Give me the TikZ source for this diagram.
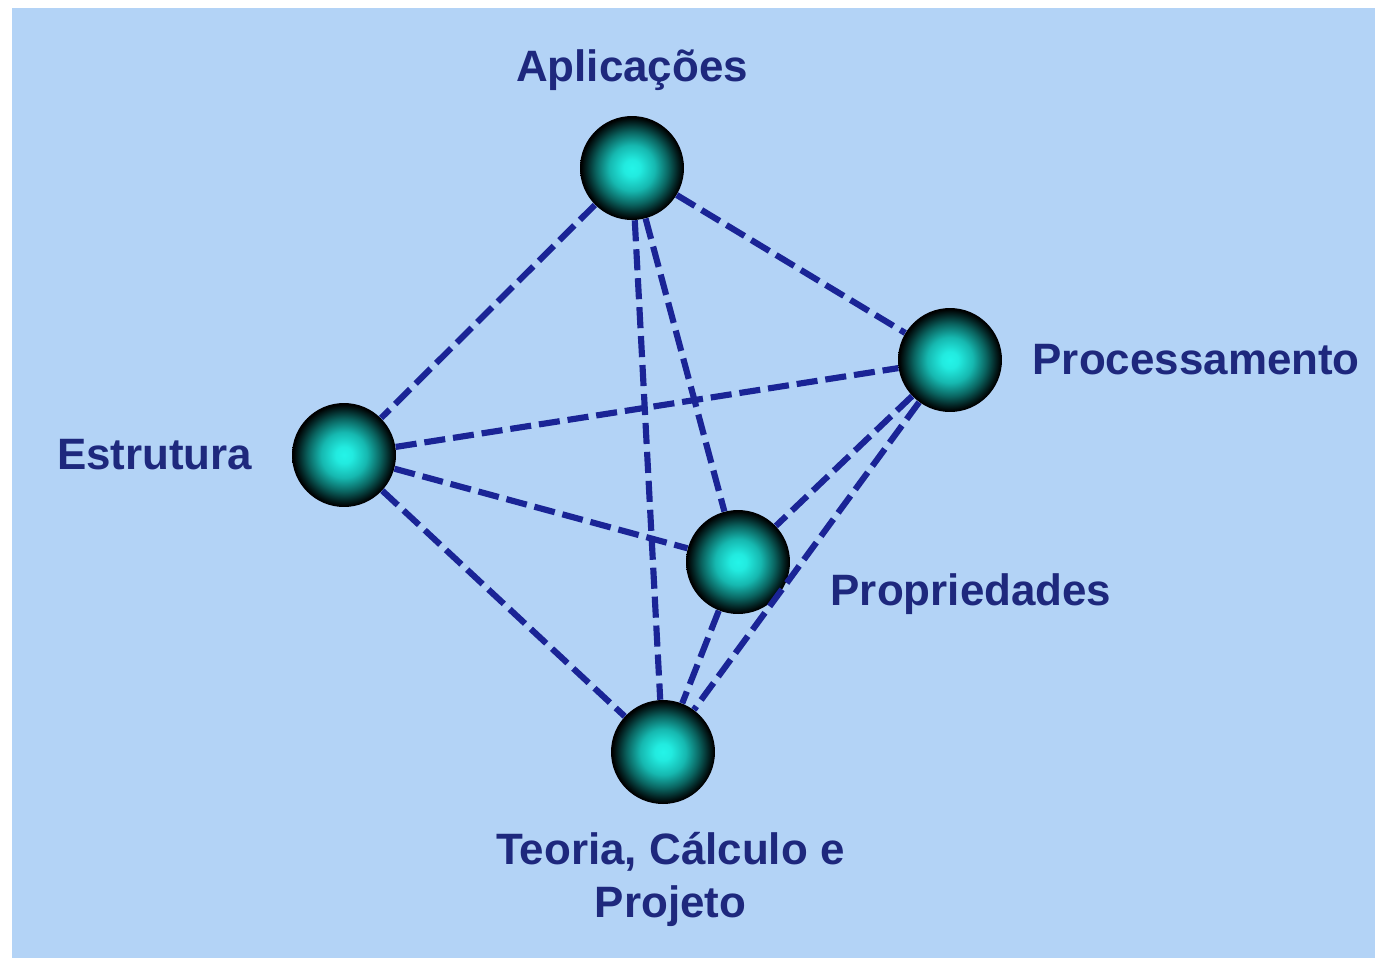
\documentclass[tikz,border=0pt]{standalone}
\usepackage{fontspec}
\setmainfont{Liberation Sans}
\usetikzlibrary{positioning}
\definecolor{bgblue}{RGB}{179,211,246}
\definecolor{txtblue}{RGB}{30,40,125}
\definecolor{lineblue}{RGB}{26,36,150}
\definecolor{sphcore}{RGB}{36,244,232}
\definecolor{sphmid}{RGB}{22,184,176}
\definecolor{sphdark}{RGB}{10,100,96}
\definecolor{sphedge}{RGB}{3,34,34}
\pgfdeclareradialshading{sphere}{\pgfpoint{0bp}{0bp}}{color(0bp)=(sphcore); color(4bp)=(sphcore!85!sphmid); color(11bp)=(sphmid); color(17.5bp)=(sphdark); color(22bp)=(sphedge); color(24.5bp)=(black); color(50bp)=(black)}
\tikzset{node distance=1cm, font=\fontsize{25}{30}\selectfont\bfseries}
\tikzstyle{ball} = [circle, minimum size=2.08cm, inner sep=0pt, shading=sphere]
\tikzstyle{tag} = [text=txtblue, align=center, inner sep=0pt]
\tikzstyle{link} = [draw=lineblue, line width=3.5pt, dash pattern=on 12pt off 4.5pt]

\begin{document}
\begin{tikzpicture}[x=0.02cm, y=-0.02cm]
		\fill [white] (0,0) rectangle (1377,961);
		\fill [bgblue] (12,8) rectangle (1375,958);
		\useasboundingbox (0,0) rectangle (1377,961);

		\node [ball] (apl) at (632,168) {};
		\node [ball] (proc) at (950,360) {};
		\node [ball] (est) at (344,455) {};
		\node [ball] (prop) at (738,562) {};
		\node [ball] (teo) at (663,752) {};

		\node [tag, above=0.5cm of apl] (apl_t) {Aplicações};
		\node [tag, right=0.6cm of proc] (proc_t) {Processamento};
		\node [tag, left=0.78cm of est] (est_t) {Estrutura};
		\node [tag, right=0.8cm of prop, yshift=-0.65cm] (prop_t) {Propriedades};
		\node [tag, below=0.55cm of teo, xshift=0.15cm] (teo_t) {Teoria, Cálculo e\\Projeto};

		\draw [link] (apl) -- (est);
		\draw [link] (apl) -- (proc);
		\draw [link] (apl) -- (teo);
		\draw [link] (apl) -- (prop);
		\draw [link] (est) -- (proc);
		\draw [link] (est) -- (prop);
		\draw [link] (est) -- (teo);
		\draw [link] (proc) -- (prop);
		\draw [link] (proc) -- (teo);
		\draw [link] (prop) -- (teo);

	\end{tikzpicture}
\end{document}
